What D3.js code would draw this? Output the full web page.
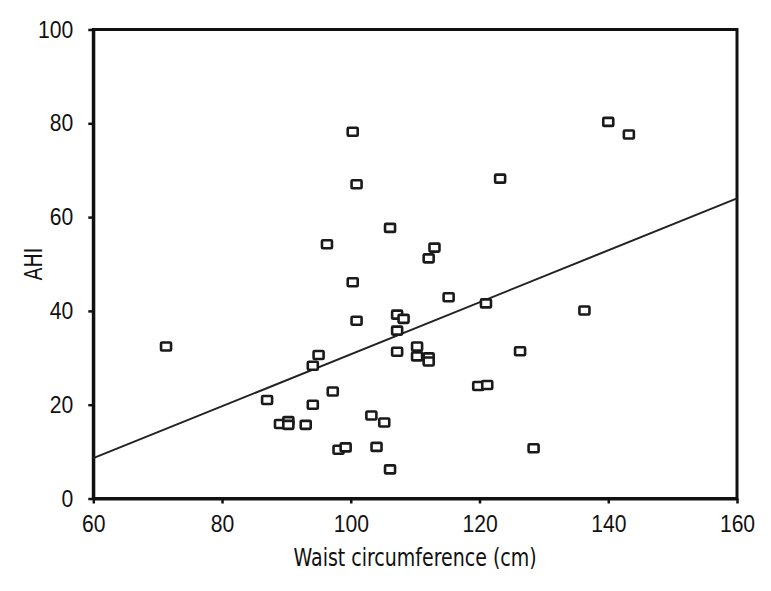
<!DOCTYPE html>
<html>
<head>
    <meta charset="utf-8">
    <style>
        body {
            margin: 0;
            background: #fff;
        }

        svg {
            font-family: 'DejaVu Sans Condensed', 'DejaVu Sans', sans-serif;
            font-stretch: condensed;
        }

        .axis .domain {
            stroke: #111;
            stroke-width: 3px;
        }

        .axis .tick line {
            stroke: #111;
            stroke-width: 2.5px;
        }

        .axis .tick text {
            font-size: 24px;
            fill: #111;
        }

        .axis_title {
            font-size: 24px;
            fill: #111;
        }

        .marker {
            fill: #fff;
            stroke: #1a1a1a;
            stroke-width: 2.6px;
        }
    </style>
</head>

<body>
    <svg class="scatter" width="771" height="591"></svg>
</body>

<script src="https://d3js.org/d3.v7.min.js"></script>

<script>
    // waist circumference (cm) and AHI
    let waist = [71.3, 87.0, 89.0, 90.3, 90.3, 93.0, 94.1, 94.1, 95.0, 96.3,
                 97.2, 98.1, 99.2, 100.3, 100.3, 100.9, 100.9, 103.2, 104.0, 105.2,
                 106.1, 106.1, 107.2, 108.2, 107.2, 107.2, 110.3, 110.3, 112.1, 113.0,
                 112.1, 112.1, 115.2, 119.8, 121.2, 121.0, 123.2, 126.3, 128.4, 136.3,
                 140.0, 143.2]
    let ahi = [32.4, 21.0, 15.9, 16.5, 15.7, 15.7, 20.0, 28.3, 30.6, 54.2,
               22.8, 10.4, 10.9, 78.2, 46.1, 67.0, 37.9, 17.7, 11.0, 16.2,
               57.7, 6.2, 39.2, 38.3, 35.8, 31.3, 32.4, 30.3, 51.2, 53.5,
               30.1, 29.2, 42.9, 24.0, 24.2, 41.6, 68.2, 31.4, 10.7, 40.1,
               80.3, 77.6]

    // fitted line end points
    let fitX = [60, 160]
    let fitY = [8.6, 64.0]

    let xTicks = [60, 80, 100, 120, 140, 160]
    let yTicks = [0, 20, 40, 60, 80, 100]

    let width = 771;
    let height = 591;
    let margin = {top: 29.5, right: 34, bottom: 92.5, left: 93.3};

    let svg = d3.select(".scatter");

    let x = d3.scaleLinear()
        .domain([60, 160])
        .range([margin.left, width - margin.right])

    let y = d3.scaleLinear()
        .domain([0, 100])
        .range([height - margin.bottom, margin.top])

    let xAxisSettings = d3.axisBottom(x)
        .tickValues(xTicks)
        .tickSize(5)
        .tickSizeOuter(0)
        .tickPadding(11)

    let yAxisSettings = d3.axisLeft(y)
        .tickValues(yTicks)
        .tickSize(5)
        .tickSizeOuter(0)
        .tickPadding(15)

    // frame on top and right
    svg.append("rect")
        .attr("x", x(60))
        .attr("y", y(100))
        .attr("width", x(160) - x(60))
        .attr("height", y(0) - y(100))
        .style("fill", "none")
        .style("stroke", "#111")
        .style("stroke-width", "3px")

    svg.append("g")
        .attr("class", "x axis")
        .attr("transform", `translate(0, ${y(0)})`)
        .call(xAxisSettings)

    svg.append("g")
        .attr("class", "y axis")
        .attr("transform", `translate(${x(60)}, 0)`)
        .call(yAxisSettings)

    // squeeze the labels to look like the narrow face in the picture
    svg.selectAll(".x.axis .tick text")
        .attr("transform", "scale(0.88, 1)")
    svg.selectAll(".y.axis .tick text")
        .attr("transform", "translate(-20, 0) scale(0.88, 1)")
        .attr("x", 0)

    let fit = d3.line()
        .x(d => x(d[0]))
        .y(d => y(d[1]));

    svg.append("path")
        .attr("d", fit(d3.zip(fitX, fitY)))
        .style("fill", "none")
        .style("stroke", "#222")
        .style("stroke-width", "2px")

    let points = d3.zip(waist, ahi)

    svg.append("g")
        .selectAll(".marker")
        .data(points)
        .join("rect")
        .attr("class", "marker")
        .attr("x", d => x(d[0]) - 5)
        .attr("y", d => y(d[1]) - 4)
        .attr("width", 10)
        .attr("height", 8)
        .attr("rx", 1)

    svg.append("text")
        .attr("class", "axis_title")
        .attr("transform", `translate(${(x(60) + x(160)) / 2}, 566) scale(0.88, 1)`)
        .attr("text-anchor", "middle")
        .text("Waist circumference (cm)")

    svg.append("text")
        .attr("class", "axis_title")
        .attr("transform", `translate(42, ${(y(0) + y(100)) / 2}) rotate(-90) scale(0.88, 1)`)
        .attr("text-anchor", "middle")
        .text("AHI")
</script>
</html>
